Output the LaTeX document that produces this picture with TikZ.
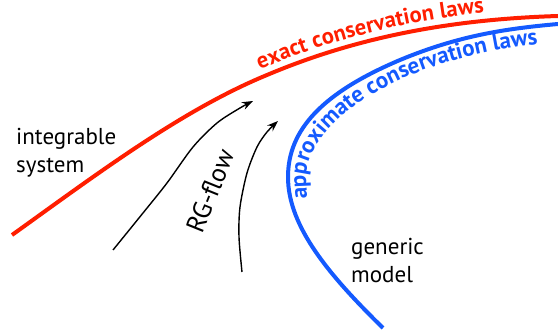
\documentclass[tikz,border=0pt]{standalone}
\usepackage{fontspec}
\setmainfont{PT Sans}
\usetikzlibrary{decorations.text,arrows.meta}
\definecolor{cred}{RGB}{255,30,0}
\definecolor{cblue}{RGB}{20,90,255}
\begin{document}
\begin{tikzpicture}[x=1pt,y=-1pt,
  lbl/.style={font=\fontsize{23}{27}\selectfont, inner sep=0pt},
  arr/.style={-{Stealth[length=11pt,width=8pt]}, line width=1.4pt},
  curve/.style={line width=4pt}]
\useasboundingbox (0,0) rectangle (558,334);
% red curve: exact conservation laws
\coordinate (r0) at (12,235);
\coordinate (r1) at (267,75);
\coordinate (r2) at (558,16);
\draw[curve, cred] (r0) .. controls (97,174) and (182,110) .. (r1)
  .. controls (364,34) and (461,19) .. (r2);
\path[decorate, decoration={text along path, text align=left, raise=8pt,
  text={|\fontsize{22.5}{27}\selectfont\bfseries\color{cred}|exact conservation laws}}]
  (263,77) .. controls (361,35) and (461,19) .. (r2);
% blue curve: approximate conservation laws
\coordinate (b0) at (383,328);
\coordinate (b1) at (288,177);
\coordinate (b2) at (400,60);
\coordinate (b3) at (558,24);
\draw[curve, cblue] (b0) .. controls (330,276) and (288,227) .. (b1)
  .. controls (288,130) and (322,93) .. (b2)
  .. controls (460,35) and (508,28.5) .. (b3);
\path[decorate, decoration={text along path, text align=left, raise=0pt,
  text={|\fontsize{23}{27}\selectfont\bfseries\color{cblue}|approximate conservation laws}}]
  (307,199) -- (306,177) .. controls (306,142) and (348.5,101.4) .. (407,76.6)
  .. controls (461,54) and (514.6,46) .. (559.6,42);
% RG-flow arrows
\draw[arr] plot[smooth] coordinates {(113,250) (143,213) (167,183) (193,147) (217,123) (240,108) (253,101)};
\draw[arr] plot[smooth] coordinates {(242,272) (239,237) (240,207) (247,173) (257,147) (267,132) (278,121)};
% labels
\node[lbl, anchor=base west] (int1) at (16,145) {integrable};
\node[lbl, anchor=base west] (int2) at (16,173) {system};
\node[lbl, anchor=base west] (gen1) at (351,255) {generic};
\node[lbl, anchor=base west] (gen2) at (351,283) {model};
\node[lbl, font=\fontsize{26}{30}\selectfont, rotate=68] (rg) at (210,191) {RG-flow};
\end{tikzpicture}
\end{document}
